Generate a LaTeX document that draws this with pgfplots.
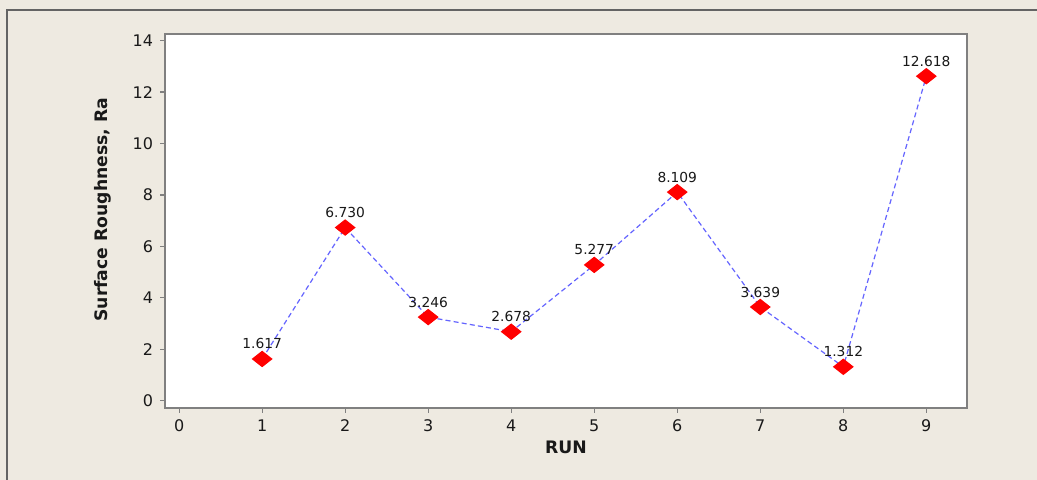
\documentclass[border=0pt]{standalone}
\usepackage{fontspec}
\setmainfont{DejaVu Sans}
\usepackage{pgfplots}
\pgfplotsset{compat=1.18}
\usepackage{pgfplotstable}
\definecolor{bgbeige}{RGB}{238,234,225}
\definecolor{frame}{RGB}{100,100,100}
\definecolor{axgray}{RGB}{128,128,128}
\definecolor{linblue}{RGB}{100,100,255}
\definecolor{txt}{RGB}{25,25,25}
\pgfplotstableread{
x y lab
1 1.617 1.617
2 6.730 6.730
3 3.246 3.246
4 2.678 2.678
5 5.277 5.277
6 8.109 8.109
7 3.639 3.639
8 1.312 1.312
9 12.618 12.618
}\datatab
\begin{document}
\begin{tikzpicture}
\useasboundingbox (-82.5pt,-36pt) rectangle (436pt,204pt);
\fill[bgbeige] (-82.5pt,-36pt) rectangle (436pt,204pt);
\draw[frame, line width=0.8pt] (-79pt,-40pt) -- (-79pt,199pt) -- (440pt,199pt);
\begin{axis}[
  at={(0,0)}, anchor=south west,
  scale only axis,
  width=401pt, height=187pt,
  xmin=-0.17, xmax=9.49,
  ymin=-0.29, ymax=14.26,
  xtick={0,...,9}, ytick={0,2,...,14},
  axis background/.style={fill=white},
  axis line style={axgray, line width=0.75pt},
  tick style={axgray, line width=0.6pt},
  tick align=outside, tick pos=left,
  major tick length=2.5pt,
  ticklabel style={font=\fontsize{8}{9}\selectfont, text=txt},
  /pgf/number format/assume math mode=true,
  xlabel={RUN}, ylabel={Surface Roughness, Ra},
  label style={font=\bfseries\fontsize{8.6}{10}\selectfont, text=txt},
  x label style={at={(axis description cs:0.5,-0.104)}, anchor=center},
  y label style={at={(axis description cs:-0.0773,0.53)}, anchor=center},
  clip=false,
]
\addplot[linblue, line width=0.6pt, dash pattern=on 2.5pt off 1.6pt,
  mark=diamond*, mark size=3.75pt,
  mark options={solid, fill=red, draw=red, xscale=1.69},
  nodes near coords, point meta=explicit symbolic,
  every node near coord/.append style={font=\fontsize{6.9}{8}\selectfont, text=txt, anchor=center, yshift=7.5pt}
] table[x=x, y=y, meta=lab] {\datatab};
\end{axis}
\end{tikzpicture}
\end{document}
